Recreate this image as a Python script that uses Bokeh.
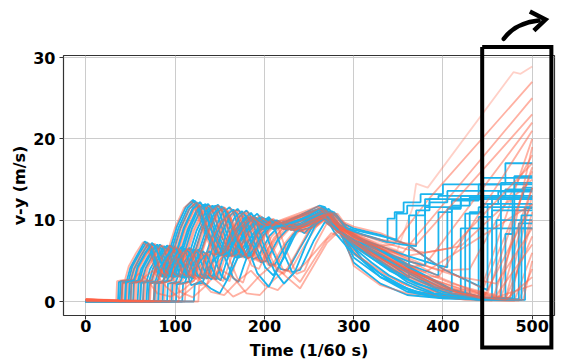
from bokeh.plotting import figure
from bokeh.models import Range1d, FixedTicker
from bokeh.core.properties import value
from bokeh.embed import file_html
from bokeh.resources import INLINE

# ---------------- data ----------------
x_ticks = [0, 100, 200, 300, 400, 500]
y_ticks = [0, 10, 20, 30]
x_label = "Time (1/60 s)"
y_label = "v-y (m/s)"

blue_t = [
    [0,36,37,46,50,58,66,70,80,86,92,102,112,120,124,134,146,152,165,180,195,215,240,262,268,280,300,330,338,338,346,346,356,356,375,375,400,400,470,470,500],
    [0,40,41,50,54,62,70,74,84,90,96,106,116,124,128,138,150,156,169,184,200,220,245,265,280,300,330,360,362,362,380,380,420,420,500],
    [0,44,45,54,58,66,74,78,88,94,100,110,120,128,132,142,154,160,173,188,205,225,250,266,282,300,330,360,395,395,410,410,440,440,500],
    [0,48,49,58,62,70,78,82,92,98,104,114,124,132,136,146,158,164,177,192,210,230,255,268,284,300,330,370,420,420,500],
    [0,53,54,63,67,75,83,87,97,103,109,119,129,137,141,151,163,169,182,197,215,235,258,270,286,300,330,370,410,440,440,455,455,500],
    [0,58,59,68,72,80,88,92,102,108,114,124,134,142,146,156,168,174,187,202,220,240,262,272,288,300,330,360,400,450,450,462,462,500],
    [0,64,65,74,78,86,94,98,108,114,120,130,140,148,152,162,174,180,193,208,225,245,265,275,290,300,330,360,400,440,460,460,500],
    [0,70,71,80,84,92,100,104,114,120,126,136,146,154,158,168,180,186,199,214,230,250,266,278,292,300,330,360,390,405,405,420,420,445,445,500],
    [0,77,78,87,91,99,107,111,121,127,133,143,153,161,165,175,187,193,206,221,235,255,268,280,294,310,340,370,410,450,470,470,478,478,500],
    [0,86,87,96,100,108,116,120,130,136,142,152,162,170,174,184,196,202,215,230,245,262,272,284,300,330,360,400,430,430,444,444,500],
    [0,96,97,106,110,118,126,130,140,146,152,162,172,180,184,194,206,212,225,240,255,268,280,300,330,360,400,440,478,478,490,490,500],
    [0,108,109,118,122,130,138,142,152,158,164,174,184,192,196,206,218,226,240,255,268,282,300,330,360,400,440,485,485,500],
    [0,121,122,131,135,143,151,155,165,171,177,187,197,205,209,219,231,240,255,268,283,300,330,360,400,440,470,492,492,500],
    [0,76,77,86,92,100,110,118,130,140,150,160,175,190,210,230,250,266,282,300,330,360,380,380,395,395,500],
    [0,38,39,48,52,60,68,72,82,88,94,104,114,122,126,136,148,154,167,182,198,218,242,263,278,295,320,345,370,400,465,465,500],
    [0,50,51,60,64,72,80,84,94,100,106,116,126,134,138,148,160,166,179,194,212,232,256,268,282,300,325,348,348,360,360,385,385,500],
    [0,61,62,71,75,83,91,95,105,111,117,127,137,145,149,159,171,177,190,205,222,242,262,273,289,310,330,360,390,420,455,455,470,470,500],
    [0,81,82,91,95,103,111,115,125,131,137,147,157,165,169,179,192,205,218,232,248,262,276,290,310,335,360,390,425,425,440,440,500],
    [0,91,92,101,105,113,121,125,135,141,147,157,167,175,179,189,201,210,222,236,250,264,276,290,310,340,370,400,430,460,480,480,500],
    [0,101,102,111,115,123,131,135,145,151,157,167,177,185,189,199,211,222,234,246,258,270,284,300,330,360,390,410,410,430,430,500],
    [0,68,69,78,82,90,98,102,112,118,124,134,144,152,156,166,178,184,197,212,228,248,265,276,291,310,335,355,370,370,385,385,405,405,500],
    [0,44,45,54,58,66,74,78,88,94,100,110,120,128,132,142,154,160,173,188,204,224,248,265,280,298,320,340,370,400,440,488,488,500],
]
blue_v = [
    [0,0,2.4,2.6,4.2,5.8,7.4,7.0,3.6,3.0,5.6,9.2,11.6,12.5,11.9,8.5,5.8,6.0,8.6,10.4,9.2,9.4,10.6,11.8,11.6,9.6,8.6,7.6,7.3,10.2,10.2,11.0,11.0,12.2,12.2,13.2,13.2,14.4,14.4,17.0,17.0],
    [0,0,2.3,2.5,4.0,5.7,7.1,6.6,3.5,2.9,5.4,9.0,11.4,12.2,11.5,8.3,5.6,5.9,8.5,10.3,9.0,9.6,10.8,11.5,8.8,6.8,4.6,3.0,2.9,10.6,10.6,11.6,11.6,12.6,12.6],
    [0,0,2.5,2.6,4.3,5.9,7.2,6.8,3.7,3.1,5.5,9.1,11.5,12.2,11.6,8.4,5.7,6.1,8.7,10.5,9.1,9.8,10.9,11.6,9.3,8.2,6.5,4.6,3.2,11.0,11.0,12.4,12.4,14.4,14.4],
    [0,0,2.2,2.4,4.0,5.6,6.9,6.5,3.4,2.9,5.3,8.8,11.2,11.9,11.3,8.1,5.5,5.8,8.4,10.2,8.9,9.5,10.6,11.2,9.0,5.4,3.0,1.2,0.4,9.0,9.0],
    [0,0,2.4,2.6,4.1,5.7,7.0,6.6,3.5,3.0,5.4,9.0,11.3,12.0,11.4,8.2,5.6,5.9,8.5,10.4,9.2,9.7,10.6,11.3,9.2,8.0,6.3,3.8,1.5,0.6,10.4,10.4,11.2,11.2],
    [0,0,2.3,2.5,4.0,5.5,6.8,6.4,3.4,2.9,5.2,8.7,11.0,11.8,11.2,8.0,5.4,5.7,8.3,10.2,9.0,9.6,10.9,11.4,9.6,9.0,8.2,7.0,4.0,1.4,12.0,12.0,13.5,13.5],
    [0,0,2.4,2.6,4.1,5.6,6.9,6.5,3.5,3.0,5.3,8.8,11.1,11.9,11.3,8.1,5.5,5.8,8.4,10.1,8.8,9.4,10.5,11.0,7.2,4.8,2.2,0.8,0.4,0.3,0.3,10.0,10.0],
    [0,0,2.2,2.4,3.9,5.4,6.6,6.2,3.3,2.8,5.1,8.5,10.8,11.6,11.0,7.9,5.3,5.6,8.2,10.0,8.8,9.4,10.4,11.0,8.9,8.0,6.8,5.6,4.6,4.2,11.4,11.4,13.0,13.0,15.2,15.2],
    [0,0,2.3,2.5,4.0,5.5,6.7,6.3,3.4,2.9,5.2,8.6,10.9,11.6,11.0,7.9,5.2,5.5,8.1,9.8,8.6,9.2,10.3,10.8,8.8,7.4,5.6,3.6,1.4,0.4,0.3,8.3,8.3,9.0,9.0],
    [0,0,2.4,2.6,4.0,5.5,6.6,6.2,3.3,2.8,5.0,8.4,10.6,11.4,10.8,7.6,4.8,5.0,7.6,9.4,8.4,10.4,10.9,8.9,6.0,3.0,1.2,0.5,0.4,11.0,11.0,12.0,12.0],
    [0,0,2.2,2.4,3.8,5.3,6.4,6.0,3.2,2.7,4.9,8.2,10.4,11.2,10.6,7.4,4.4,4.6,7.2,9.2,10.2,10.7,9.0,7.6,5.8,3.8,1.6,0.5,0.4,12.8,12.8,14.0,14.0],
    [0,0,2.3,2.5,3.9,5.2,6.2,5.8,3.1,2.6,4.6,7.8,10.0,10.8,10.2,7.0,4.0,3.8,6.6,9.4,10.4,9.0,7.4,5.4,3.2,1.2,0.3,0.3,9.6,9.6],
    [0,0,2.1,2.3,3.7,5.0,6.0,5.6,2.9,2.4,4.4,7.4,9.6,10.4,9.8,6.6,3.6,3.9,7.4,9.8,8.6,7.0,5.0,2.8,0.9,0.2,0.2,0.2,11.5,11.5],
    [0,0,2.2,2.4,4.0,5.0,4.6,2.0,2.5,1.6,1.0,3.0,6.5,8.6,9.4,9.8,10.3,10.8,8.8,7.6,6.2,5.0,4.4,12.6,12.6,13.0,13.0],
    [0,0,2.5,2.6,4.3,5.9,7.3,6.9,3.6,3.0,5.6,9.1,11.5,12.4,11.8,8.5,5.8,6.0,8.6,10.4,9.0,9.2,10.2,11.4,8.6,6.4,4.2,2.2,1.0,0.4,0.3,14.6,14.6],
    [0,0,2.4,2.6,4.1,5.7,7.0,6.6,3.5,3.0,5.4,8.9,11.3,12.0,11.4,8.2,5.6,5.9,8.5,10.3,9.0,9.6,10.7,11.4,9.4,8.8,8.2,7.6,10.8,10.8,11.8,11.8,12.6,12.6],
    [0,0,2.3,2.5,4.0,5.6,6.9,6.5,3.4,2.9,5.3,8.7,11.0,11.8,11.2,8.0,5.4,5.7,8.3,10.1,8.9,9.5,10.6,11.1,8.0,5.2,3.4,1.6,0.6,0.3,0.2,13.0,13.0,13.8,13.8],
    [0,0,2.3,2.5,3.9,5.4,6.5,6.1,3.3,2.8,5.0,8.4,10.6,11.3,10.7,7.4,3.5,1.8,4.6,8.2,9.9,10.6,9.4,8.2,6.6,4.4,2.4,1.0,0.6,10.8,10.8,11.6,11.6],
    [0,0,2.2,2.4,3.8,5.3,6.4,6.0,3.2,2.7,4.9,8.2,10.4,11.1,10.5,7.2,4.2,3.2,5.4,8.6,10.0,10.7,9.2,8.0,6.2,3.8,2.2,1.2,0.6,0.3,0.3,15.4,15.4],
    [0,0,2.1,2.3,3.7,5.1,6.2,5.8,3.1,2.6,4.7,8.0,10.2,10.9,10.3,7.0,3.8,2.2,3.6,6.8,9.6,10.4,8.6,7.4,5.6,3.6,1.8,1.2,11.8,11.8,12.8,12.8],
    [0,0,2.3,2.5,4.0,5.5,6.7,6.3,3.4,2.9,5.2,8.6,10.9,11.7,11.1,8.0,5.4,5.7,8.3,10.0,8.9,9.5,10.6,11.1,9.0,8.2,7.4,7.0,6.8,11.2,11.2,12.2,12.2,13.6,13.6],
    [0,0,2.4,2.6,4.2,5.8,7.1,6.7,3.6,3.0,5.5,9.0,11.4,12.2,11.6,8.3,5.7,6.0,8.6,10.4,9.1,9.4,10.4,11.5,9.0,6.8,4.8,3.2,1.6,0.6,0.2,0.2,10.6,10.6],
]

red_t = [
    [0,38,39,48,52,60,68,72,82,88,94,104,114,122,126,136,148,154,167,182,197,215,240,262,280,300,330,349,366,370,383,479,487,500],
    [0,42,43,52,56,64,72,76,86,92,98,108,118,126,130,140,152,158,171,186,200,220,245,265,282,300,320,345,384,500],
    [0,47,48,57,61,69,77,81,91,97,103,113,123,131,135,145,157,163,176,191,205,225,250,266,283,300,330,360,380,500],
    [0,51,52,61,65,73,81,85,95,101,107,117,127,135,139,149,161,167,180,195,210,230,252,268,284,300,330,360,400,440,500],
    [0,56,57,66,70,78,86,90,100,106,112,122,132,140,144,154,166,172,185,200,215,235,255,270,286,300,330,360,400,430,500],
    [0,61,62,71,75,83,91,95,105,111,117,127,137,145,149,159,171,177,190,205,220,240,260,272,288,300,330,360,400,445,500],
    [0,66,67,76,80,88,96,100,110,116,122,132,142,150,154,164,176,182,195,210,225,245,262,274,290,300,330,360,420,500],
    [0,72,73,82,86,94,102,106,116,122,128,138,148,156,160,170,182,188,201,216,230,250,266,278,292,300,330,360,400,440,470,500],
    [0,79,80,89,93,101,109,113,123,129,135,145,155,163,167,177,189,195,208,223,237,256,268,280,294,310,340,380,500],
    [0,88,89,98,102,110,118,122,132,138,144,154,164,172,176,186,198,204,217,232,247,262,272,284,300,330,360,400,450,475,500],
    [0,98,99,108,112,120,128,132,142,148,154,164,174,182,186,196,208,214,227,242,257,270,282,300,330,360,400,440,470,500],
    [0,111,112,121,125,133,141,145,155,161,167,177,187,195,199,209,221,229,243,258,270,284,300,330,360,400,440,480,500],
    [0,126,127,136,140,148,156,160,170,176,182,192,202,210,214,224,236,245,258,270,285,300,330,360,400,440,485,500],
    [0,40,41,50,60,70,80,95,110,125,140,155,170,185,200,215,230,245,260,275,290,310,340,380,420,460,500],
    [0,60,61,70,80,95,105,120,135,150,165,180,195,210,225,240,255,270,285,300,330,360,400,440,465,500],
    [0,45,46,55,59,67,75,79,89,95,101,111,121,129,133,143,155,161,174,189,205,225,248,266,283,300,330,355,500],
    [0,82,83,92,96,104,112,116,126,132,138,148,158,166,170,180,192,198,211,226,240,258,270,282,296,320,350,390,430,462,500],
    [0,34,35,44,48,56,64,68,78,84,90,100,110,118,122,132,144,150,163,178,193,213,238,260,278,300,330,360,400,440,475,500],
    [0,45,46,55,59,67,75,79,89,95,101,111,121,129,133,143,155,161,174,189,205,225,250,266,282,300,325,350,375,395,500],
    [0,54,55,64,68,76,84,88,98,104,110,120,130,138,142,152,164,170,183,198,214,234,256,269,285,300,330,360,380,410,500],
    [0,64,65,74,78,86,94,98,108,114,120,130,140,148,152,162,174,180,193,208,224,244,262,274,290,305,330,355,390,425,455,500],
    [0,76,77,86,90,98,106,110,120,126,132,142,152,160,164,174,186,194,206,220,236,254,268,280,294,315,345,375,410,445,500],
    [0,84,85,94,98,106,114,118,128,134,140,150,160,168,172,182,194,200,213,228,244,260,272,284,300,330,360,390,420,460,500],
    [0,94,95,104,108,116,124,128,138,144,150,160,170,178,182,192,204,210,223,238,252,266,280,296,320,350,380,420,460,500],
    [0,104,105,114,118,126,134,138,148,154,160,170,180,188,192,202,214,222,236,250,264,278,296,320,350,380,420,460,490,500],
    [0,50,51,60,75,90,105,120,135,150,165,180,195,210,225,240,255,270,285,300,330,370,410,450,500],
    [0,40,41,50,54,62,70,74,84,90,96,106,116,124,128,138,150,156,169,184,200,220,245,264,281,300,330,370,500],
    [0,71,72,81,85,93,101,105,115,121,127,137,147,155,159,169,181,187,200,215,231,250,266,278,292,310,335,365,400,440,470,500],
]
red_v = [
    [0.2,0,2.5,2.7,4.4,5.9,7.0,6.6,3.7,3.1,5.6,9.0,11.3,12.1,11.5,8.4,5.8,6.1,8.7,10.6,9.4,9.8,10.7,11.6,9.4,8.3,7.1,6.3,11.5,14.5,14.0,28.2,28.0,28.9],
    [0.3,0,2.4,2.6,4.2,5.8,7.0,6.6,3.6,3.0,5.5,8.9,11.2,12.0,11.4,8.3,5.7,6.0,8.6,10.4,9.3,9.9,10.8,11.4,9.2,8.1,6.8,7.0,12.6,27.0],
    [0.1,0,2.5,2.7,4.3,5.8,7.1,6.7,3.6,3.1,5.4,8.8,11.1,11.9,11.3,8.2,5.6,5.9,8.5,10.3,9.2,9.8,10.7,11.3,9.1,7.9,6.2,4.2,4.5,22.0],
    [0.2,0,2.3,2.5,4.1,5.6,6.8,6.4,3.5,3.0,5.3,8.7,11.0,11.7,11.1,8.0,5.5,5.8,8.3,10.1,9.0,9.6,10.5,11.1,9.0,5.8,3.6,2.0,1.0,0.6,20.0],
    [0.0,0,2.4,2.6,4.2,5.7,6.9,6.5,3.5,3.0,5.4,8.8,11.0,11.8,11.2,8.1,5.5,5.8,8.4,10.2,9.1,9.6,10.6,11.1,9.1,8.0,6.5,5.0,3.8,4.0,18.0],
    [0.3,0,2.2,2.4,4.0,5.5,6.7,6.3,3.4,2.9,5.2,8.6,10.9,11.6,11.0,7.9,5.4,5.7,8.2,10.0,9.0,9.5,10.5,11.0,9.8,9.2,8.4,7.0,4.0,1.6,16.0],
    [0.1,0,2.4,2.6,4.1,5.6,6.8,6.4,3.5,3.0,5.3,8.7,11.0,11.7,11.1,8.0,5.4,5.7,8.3,10.0,8.9,9.4,10.4,10.9,8.9,7.7,6.5,5.6,6.8,15.0],
    [0.2,0,2.3,2.5,4.0,5.5,6.6,6.2,3.4,2.9,5.2,8.6,10.8,11.5,10.9,7.8,5.3,5.6,8.1,9.8,8.8,9.3,10.3,10.8,7.0,4.4,2.0,1.0,0.6,0.4,0.3,13.0],
    [0.0,0,2.2,2.4,3.9,5.4,6.5,6.1,3.3,2.8,5.1,8.5,10.7,11.4,10.8,7.7,5.1,5.4,8.0,9.7,8.6,9.2,10.2,10.7,8.7,7.2,5.2,3.6,12.0],
    [0.3,0,2.4,2.6,4.0,5.4,6.5,6.1,3.3,2.8,5.0,8.3,10.5,11.2,10.6,7.5,4.8,5.0,7.6,9.4,8.4,10.2,10.7,8.8,7.5,5.8,4.0,1.8,0.6,0.4,10.0],
    [0.1,0,2.2,2.4,3.8,5.2,6.3,5.9,3.2,2.7,4.8,8.1,10.3,11.0,10.4,7.2,4.3,4.5,7.1,9.1,10.0,10.5,8.9,7.4,5.5,3.4,1.4,0.5,0.3,8.0],
    [0.2,0,2.3,2.5,3.9,5.1,6.1,5.7,3.0,2.5,4.5,7.6,9.8,10.6,10.0,6.8,3.9,3.7,6.5,9.2,10.2,8.8,7.2,5.2,3.0,1.0,0.2,0.1,6.0],
    [0.0,0,2.0,2.2,3.6,4.9,5.8,5.4,2.8,2.3,4.2,7.2,9.4,10.2,9.6,6.4,3.4,3.8,7.2,9.6,8.4,6.8,4.8,2.6,0.8,0.2,0.1,4.0],
    [0.2,0,2.2,2.4,3.5,2.5,1.0,0.6,1.5,3.0,1.2,0.8,2.5,3.8,2.0,1.4,3.2,4.6,6.5,8.4,7.8,6.6,5.0,3.0,1.5,0.5,2.0],
    [0.1,0,2.3,2.5,4.0,3.5,1.2,0.5,2.0,4.0,3.0,1.0,0.8,2.6,4.0,2.4,5.0,7.6,9.0,8.0,6.0,4.0,2.0,0.6,0.3,14.0],
    [0.2,0,2.4,2.6,4.2,5.7,7.0,6.6,3.6,3.1,5.5,8.9,11.2,11.9,11.3,8.2,5.6,5.9,8.5,10.3,9.2,9.8,10.8,11.4,9.2,8.2,6.8,6.0,25.0],
    [0.1,0,2.3,2.5,3.9,5.4,6.5,6.1,3.3,2.8,5.1,8.4,10.6,11.3,10.7,7.6,5.0,5.3,7.9,9.6,8.6,9.2,10.5,10.8,8.7,6.8,4.6,2.0,0.6,0.2,19.0],
    [0.3,0,2.5,2.7,4.3,5.9,7.3,6.9,3.7,3.1,5.6,9.1,11.5,12.3,11.7,8.5,5.8,6.1,8.7,10.6,9.4,9.8,10.8,11.7,9.5,8.4,6.9,5.2,2.8,1.0,0.4,11.0],
    [0.2,0,2.4,2.6,4.3,5.8,7.1,6.7,3.6,3.1,5.5,8.9,11.3,12.0,11.4,8.3,5.7,6.0,8.6,10.4,9.2,9.7,10.7,11.4,9.1,7.4,5.6,4.0,3.2,3.0,21.0],
    [0.1,0,2.3,2.5,4.1,5.6,6.9,6.5,3.5,3.0,5.3,8.7,11.0,11.8,11.2,8.1,5.5,5.8,8.4,10.2,9.0,9.6,10.6,11.2,9.3,8.6,7.4,6.4,6.0,6.6,17.0],
    [0.2,0,2.4,2.6,4.1,5.6,6.9,6.5,3.5,3.0,5.3,8.7,11.0,11.8,11.2,8.1,5.5,5.8,8.4,10.1,8.9,9.4,10.5,11.0,7.8,5.6,3.8,2.2,0.8,0.2,0.1,14.0],
    [0.1,0,2.2,2.4,3.8,5.2,6.2,5.8,3.1,2.6,4.6,7.8,9.8,10.6,10.0,7.0,4.4,4.0,6.8,9.0,8.8,9.6,10.4,9.4,8.0,6.0,4.0,2.4,1.0,0.4,12.0],
    [0.0,0,2.3,2.5,3.9,5.4,6.5,6.1,3.3,2.8,5.0,8.3,10.5,11.2,10.6,7.5,4.9,5.1,7.7,9.5,9.0,10.3,10.8,9.0,7.8,6.6,5.4,4.0,3.0,2.2,9.0],
    [0.2,0,2.2,2.4,3.8,5.2,6.3,5.9,3.2,2.7,4.8,8.1,10.3,11.0,10.4,7.3,4.5,4.7,7.2,9.2,10.0,10.6,8.8,7.6,6.4,4.6,3.0,1.6,0.8,7.0],
    [0.1,0,2.1,2.3,3.7,5.0,6.0,5.6,3.0,2.5,4.5,7.6,9.7,10.4,9.8,6.8,3.8,3.4,6.0,8.8,10.2,9.0,7.4,5.8,4.2,2.6,1.0,0.3,0.2,5.0],
    [0.2,0,2.3,2.5,3.8,1.8,0.4,1.8,3.6,2.2,0.6,1.4,3.2,4.6,3.0,1.6,4.4,7.2,8.8,8.2,6.6,4.0,2.2,1.0,16.5],
    [0.3,0,2.5,2.7,4.3,5.9,7.2,6.8,3.7,3.1,5.6,9.0,11.4,12.2,11.6,8.4,5.8,6.1,8.7,10.5,9.3,9.8,10.8,11.5,9.3,8.4,7.6,7.0,23.0],
    [0.1,0,2.3,2.5,4.0,5.5,6.7,6.3,3.4,2.9,5.2,8.6,10.9,11.6,11.0,7.9,5.3,5.6,8.2,9.9,8.8,9.3,10.4,10.9,8.6,6.8,5.0,3.2,1.6,0.5,0.2,3.0],
]

# highlight box and arrow (data coordinates)
box_x = [444, 521.5, 521.5, 444, 444]
box_y = [31.3, 31.3, -5.66, -5.66, 31.3]
arrow_start = (468.2, 32.3)
arrow_ctrl = (480.2, 34.2)
arrow_end = (507.1, 34.55)
head_x = [497.4, 514.9, 501.9]
head_y = [35.66, 34.67, 33.3]
x_label_pos = (250, -6.05)

BLUE = "#1ab4ee"
RED = "#ff6347"
FONT = "DejaVu Sans"

p = figure(width=560, height=359, output_backend="svg", toolbar_location=None,
           x_range=Range1d(-25, 525), y_range=Range1d(-1.72, 30.25),
           min_border_left=63, min_border_right=6, min_border_top=55,
           min_border_bottom=44)
p.background_fill_color = "white"
p.border_fill_color = "white"
p.outline_line_color = "#333333"
p.outline_line_width = 1.2

for g in (p.xgrid, p.ygrid):
    g.grid_line_color = "#cccccc"
    g.grid_line_width = 1

p.xaxis.ticker = FixedTicker(ticks=x_ticks)
p.yaxis.ticker = FixedTicker(ticks=y_ticks)
for ax in (p.xaxis, p.yaxis):
    ax.axis_line_color = None
    ax.minor_tick_line_color = None
    ax.major_tick_in = 0
    ax.major_tick_out = 4
    ax.major_tick_line_color = "#333333"
    ax.major_label_text_font = FONT
    ax.major_label_text_font_style = "bold"
    ax.major_label_text_font_size = "16px"
    ax.major_label_text_color = "black"
p.xaxis.major_label_standoff = 0
p.yaxis.major_label_standoff = 4
p.yaxis.axis_label = y_label
p.yaxis.axis_label_text_font = FONT
p.yaxis.axis_label_text_font_style = "bold"
p.yaxis.axis_label_text_font_size = "16px"
p.yaxis.axis_label_text_color = "black"
p.yaxis.axis_label_standoff = 1

n = max(len(blue_t), len(red_t))
for i in range(n):
    if i < len(blue_t):
        p.line(blue_t[i], blue_v[i], line_color=BLUE, line_width=1.8)
    if i < len(red_t):
        a = 0.3 if red_v[i][-1] > 28 else 0.5
        p.line(red_t[i], red_v[i], line_color=RED, line_alpha=a, line_width=1.8)

# x axis label drawn as an overlay text below the tick labels
p.text(x=[x_label_pos[0]], y=[x_label_pos[1]], text=[x_label],
       text_align="center", text_baseline="alphabetic",
       text_font=value(FONT), text_font_style="bold",
       text_font_size="16px", text_color="black", level="overlay")

# highlight rectangle and arrow, drawn above the frame (not clipped)
p.line(box_x, box_y, line_color="black", line_width=4, line_join="miter",
       level="overlay")
p.quadratic(x0=[arrow_start[0]], y0=[arrow_start[1]], x1=[arrow_end[0]],
            y1=[arrow_end[1]], cx=[arrow_ctrl[0]], cy=[arrow_ctrl[1]],
            line_color="black", line_width=4.5, line_cap="round",
            level="overlay")
p.line(head_x, head_y, line_color="black", line_width=4.5, line_join="miter",
       level="overlay")

open("out.html", "w").write(file_html(p, INLINE))
